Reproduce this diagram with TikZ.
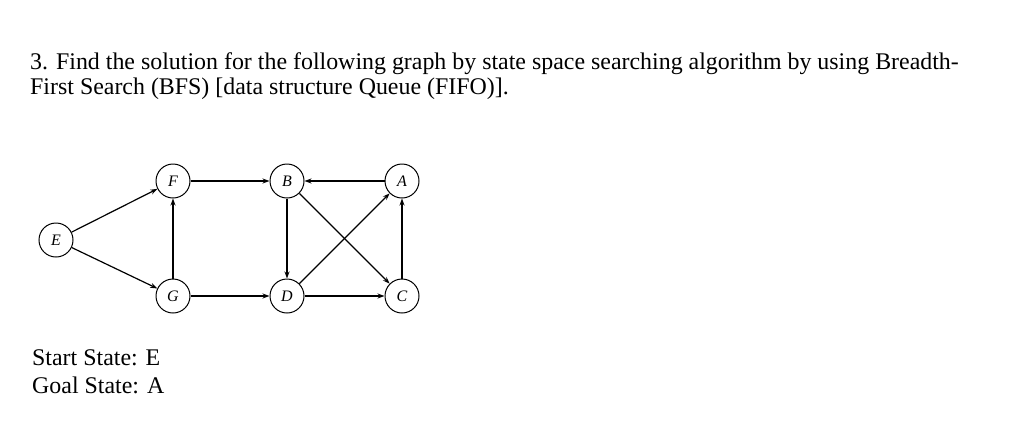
\documentclass[tikz,border=0pt]{standalone}
\usepackage{fontspec}
\setmainfont{Liberation Serif}
\usetikzlibrary{arrows.meta}
\begin{document}
\begin{tikzpicture}[x=1pt,y=-1pt,
  st/.style={circle,draw,line width=1pt,minimum size=34pt,inner sep=0pt,font=\fontsize{16}{18}\selectfont\itshape},
  ar/.style={line width=1.2pt,-{Stealth[length=7pt,width=5pt]}},
  txt/.style={anchor=base west,inner sep=0pt,font=\fontsize{23.9}{25}\selectfont,align=left}]
\useasboundingbox (0,0) rectangle (1024,437);
\node[txt] (t1) at (30,69) {3. Find the solution for the following graph by state space searching algorithm by using Breadth-};
\node[txt] (t2) at (30,94) {First Search (BFS) [data structure Queue (FIFO)].};
\node[txt] (s1) at (32,365) {Start State: E};
\node[txt] (s2) at (32,393) {Goal State: A};
\node[st] (E) at (56,240) {E};
\node[st] (F) at (173,181) {F};
\node[st] (B) at (287,181) {B};
\node[st] (A) at (402,181) {A};
\node[st] (G) at (173,296) {G};
\node[st] (D) at (287,296) {D};
\node[st] (C) at (402,296) {C};
\draw[ar] (E) -- (F);
\draw[ar] (E) -- (G);
\draw[ar] (G) -- (F);
\draw[ar] (F) -- (B);
\draw[ar] (A) -- (B);
\draw[ar] (B) -- (D);
\draw[ar] (B) -- (C);
\draw[ar] (D) -- (A);
\draw[ar] (G) -- (D);
\draw[ar] (D) -- (C);
\draw[ar] (C) -- (A);
\end{tikzpicture}
\end{document}
